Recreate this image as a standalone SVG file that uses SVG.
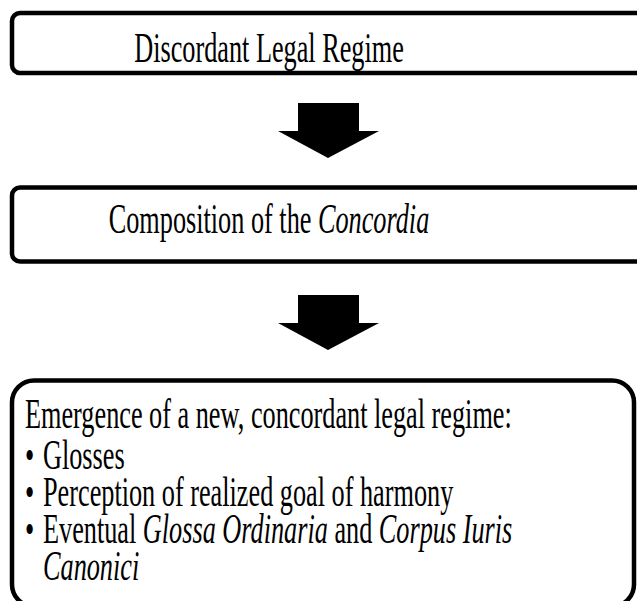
<svg xmlns="http://www.w3.org/2000/svg" width="637" height="601" viewBox="0 0 637 601">
<style>
.box{fill:#fff;stroke:#000;stroke-width:4.5}
.t{font-family:"Liberation Serif","Times New Roman",serif;font-size:42px;fill:#000}
.c{text-anchor:middle}
.arrow{fill:#000;stroke:none}
</style>
<rect width="637" height="601" fill="#fff"/>
<g id="connectors">
<polygon class="arrow" points="298,103 359,103 359,131 379,131 328,158 278,131 298,131"/>
<polygon class="arrow" points="298,295 359,295 359,323 379,323 328,350 278,323 298,323"/>
</g>
<g id="node1">
<rect class="box" x="12" y="13" width="640" height="60" rx="8"/>
<text class="t c" transform="matrix(0.625 0 0 1 269 62)">Discordant Legal Regime</text>
</g>
<g id="node2">
<rect class="box" x="12" y="187.5" width="640" height="74" rx="8"/>
<text class="t c" transform="matrix(0.625 0 0 1 269 233)">Composition of the <tspan font-style="italic">Concordia</tspan></text>
</g>
<g id="node3">
<rect class="box" x="12" y="380.5" width="622" height="226" rx="22"/>
<text class="t" transform="matrix(0.625 0 0 1 25 428)">Emergence of a new, concordant legal regime:</text>
<text class="t" transform="matrix(0.625 0 0 1 25 469)">•</text>
<text class="t" transform="matrix(0.625 0 0 1 43 469)">Glosses</text>
<text class="t" transform="matrix(0.625 0 0 1 25 506)">•</text>
<text class="t" transform="matrix(0.625 0 0 1 43 506)">Perception of realized goal of harmony</text>
<text class="t" transform="matrix(0.625 0 0 1 25 543)">•</text>
<text class="t" transform="matrix(0.625 0 0 1 43 543)">Eventual <tspan font-style="italic">Glossa Ordinaria</tspan> and <tspan font-style="italic">Corpus Iuris</tspan></text>
<text class="t" transform="matrix(0.625 0 0 1 43 580)" font-style="italic">Canonici</text>
</g>
</svg>
